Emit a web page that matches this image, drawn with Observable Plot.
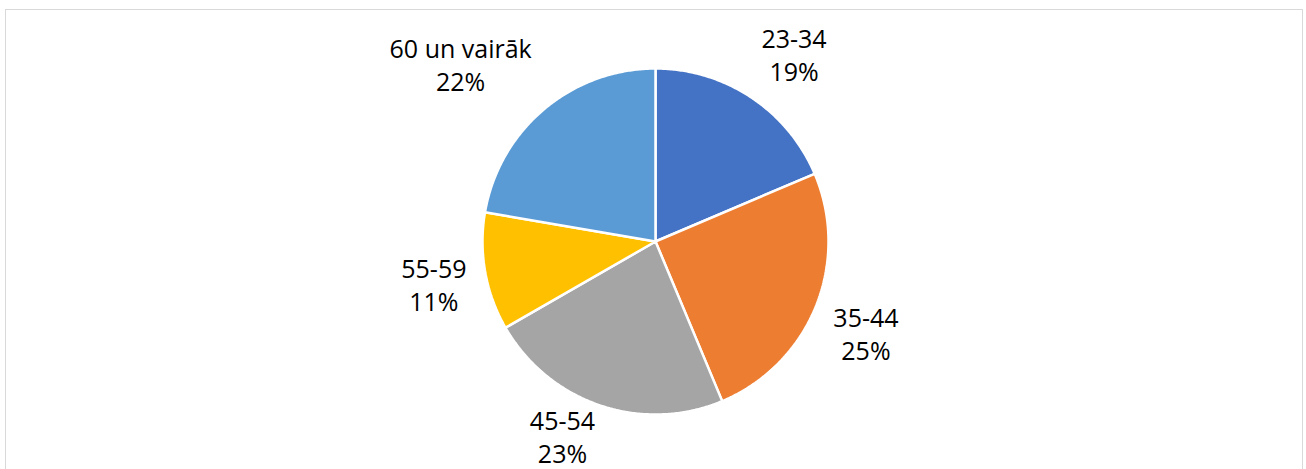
<!DOCTYPE html>
<html><head><meta charset="utf-8">
<script src="https://cdn.jsdelivr.net/npm/d3@7"></script>
<script src="https://cdn.jsdelivr.net/npm/@observablehq/plot@0.6"></script>
<style>
html,body{margin:0;padding:0;background:#fff;}
#wrap{position:relative;width:1306px;height:469px;overflow:hidden;}
#frame{position:absolute;left:5px;top:9px;width:1298px;height:490px;border:1.5px solid #d9d9d9;box-sizing:border-box;}
#chart{position:absolute;left:0;top:0;}
</style></head><body>
<div id="wrap"><div id="frame"></div><div id="chart"></div></div>
<script>
// Data (shares; labels show rounded percentages)
const categories = ["23-34", "35-44", "45-54", "55-59", "60 un vairāk"];
const shares = [18.6, 25.1, 23.0, 11.0, 22.3];
const colors = ["#4472C4", "#ED7D31", "#A5A5A5", "#FFC000", "#5B9BD5"];

// Layout
const W = 1306, H = 469, cx = 655, cy = 241, R = 173;
const fontSize = 25, lineH = 33, font = "Open Sans";

const rows = categories.map((c, i) => ({cat: c, share: shares[i]}));
const total = d3.sum(shares);
const arcs = d3.pie().sort(null).value(d => d.share)(rows);

// slice outlines in unit coordinates (y up)
const pts = [];
for (const a of arcs) {
  const n = Math.max(2, Math.ceil((a.endAngle - a.startAngle) / (Math.PI / 360)));
  pts.push({cat: a.data.cat, x: 0, y: 0});
  for (let k = 0; k <= n; k++) {
    const t = a.startAngle + (a.endAngle - a.startAngle) * k / n;
    pts.push({cat: a.data.cat, x: Math.sin(t), y: Math.cos(t)});
  }
  pts.push({cat: a.data.cat, x: 0, y: 0});
}

// label placement (Excel-like outside end)
const ctx = document.createElement("canvas").getContext("2d");
ctx.font = `${fontSize}px "${font}"`;
const clamp = v => Math.max(-1, Math.min(1, v));
const labels = arcs.map(a => {
  const lines = [a.data.cat, Math.round(a.data.share / total * 100) + "%"];
  const w = Math.max(...lines.map(l => ctx.measureText(l).width));
  const h = 62;
  const m = (a.startAngle + a.endAngle) / 2;
  const s = Math.sin(m), c = Math.cos(m);
  let px = cx + 192 * s + clamp(3 * s) * w / 2;
  let py = cy - 192 * c - clamp(1.6 * c) * h / 2;
  py = Math.min(py, H - h / 2 - 3);
  py = Math.max(py, 22 + h / 2);
  return {text: lines.join("\n"), x: (px - cx) / R, y: (cy - py) / R};
});

const chart = Plot.plot({
  width: W, height: H,
  marginLeft: cx - R, marginRight: W - cx - R,
  marginTop: cy - R, marginBottom: H - cy - R,
  x: {domain: [-1, 1], axis: null},
  y: {domain: [-1, 1], axis: null},
  color: {domain: categories, range: colors},
  style: {background: "transparent", overflow: "visible"},
  marks: [
    Plot.line(pts, {x: "x", y: "y", z: "cat", fill: "cat", stroke: "white", strokeWidth: 2.5, strokeLinejoin: "miter", curve: "linear"}),
    Plot.text(labels, {x: "x", y: "y", text: "text", fontSize, fontFamily: font, lineHeight: lineH / fontSize, fill: "#000", textAnchor: "middle", lineAnchor: "middle"})
  ]
});
document.getElementById("chart").appendChild(chart);
</script>
</body></html>
